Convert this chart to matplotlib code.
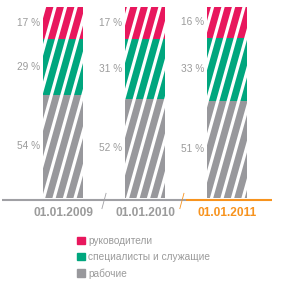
import numpy as np
import matplotlib
matplotlib.use("Agg")
from matplotlib import pyplot as plt
from matplotlib.transforms import IdentityTransform
from matplotlib.patches import Patch

plt.rcParams['font.family'] = ['Liberation Sans', 'DejaVu Sans']

dates = ['01.01.2009', '01.01.2010', '01.01.2011']
managers = [17, 17, 16]
specialists = [29, 31, 33]
workers = [54, 52, 51]
names = ['руководители', 'специалисты и служащие', 'рабочие']

red = '#E8175D'
green = '#00A67E'
grey = '#98989C'
orange = '#F7931E'
txt = '#9B9B9B'

W, H = 302, 288
fig = plt.figure(figsize=(W / 100, H / 100), dpi=100)
ax = fig.add_axes([0, 0, 1, 1])
ax.axis('off')

# pixel layout: bar centres at 63 + 82*i, 100 % = 191 px, bar bottom at y=198
ax.set_xlim(-63 / 82, (W - 63) / 82)
ax.set_ylim(-(H - 198) / 1.91, 198 / 1.91)

x = np.arange(len(dates))
w = 40 / 82
stacks = [(workers, grey), (specialists, green), (managers, red)]
bottom = np.zeros(len(dates))
bars = []
for vals, col in stacks:
    b = ax.bar(x, vals, w, bottom=bottom, color=col, linewidth=0)
    bars.extend(b.patches)
    for xi, v, b0 in zip(x, vals, bottom):
        ax.text(xi - w / 2 - 0.03, b0 + v / 2, f'{v} %', ha='right', va='center',
                fontsize=7.3, color=txt)
    bottom = bottom + np.array(vals)

# white diagonal stripes over the bars
for p in bars:
    for k in range(-5, 40):
        xt = 57 + k * 10.5
        ln, = ax.plot([xt, xt - 0.28 * H], [H, 0], color='white', lw=2.3,
                      transform=IdentityTransform(), solid_capstyle='butt')
        ln.set_clip_path(p)

# baseline: grey for past dates, orange for the latest one
ya = -1.05
ax.plot([-0.74, 1.5], [ya, ya], color='#A0A0A4', lw=1.5, solid_capstyle='butt')
ax.plot([1.5, 2.55], [ya, ya], color=orange, lw=1.5, solid_capstyle='butt')
for xs, col in [(0.5, '#A0A0A4'), (1.45, orange)]:
    ax.plot([xs - 0.025, xs + 0.025], [ya - 4.5, ya + 3.5], color=col, lw=0.6)

for xi, d in zip(x, dates):
    ax.text(xi, -7.8, d, ha='center', va='center', fontsize=8.6, fontweight='bold',
            color=orange if xi == len(dates) - 1 else txt)

handles = [Patch(color=c) for c in (red, green, grey)]
fig.legend(handles, names, loc='upper left', bbox_to_anchor=(77 / W, 1 - 236 / H),
           frameon=False, fontsize=7.3, labelcolor=txt, handlelength=0.75,
           handleheight=0.75, handletextpad=0.35, labelspacing=0.6,
           borderaxespad=0, borderpad=0)

fig.savefig('out.png', dpi=100)
